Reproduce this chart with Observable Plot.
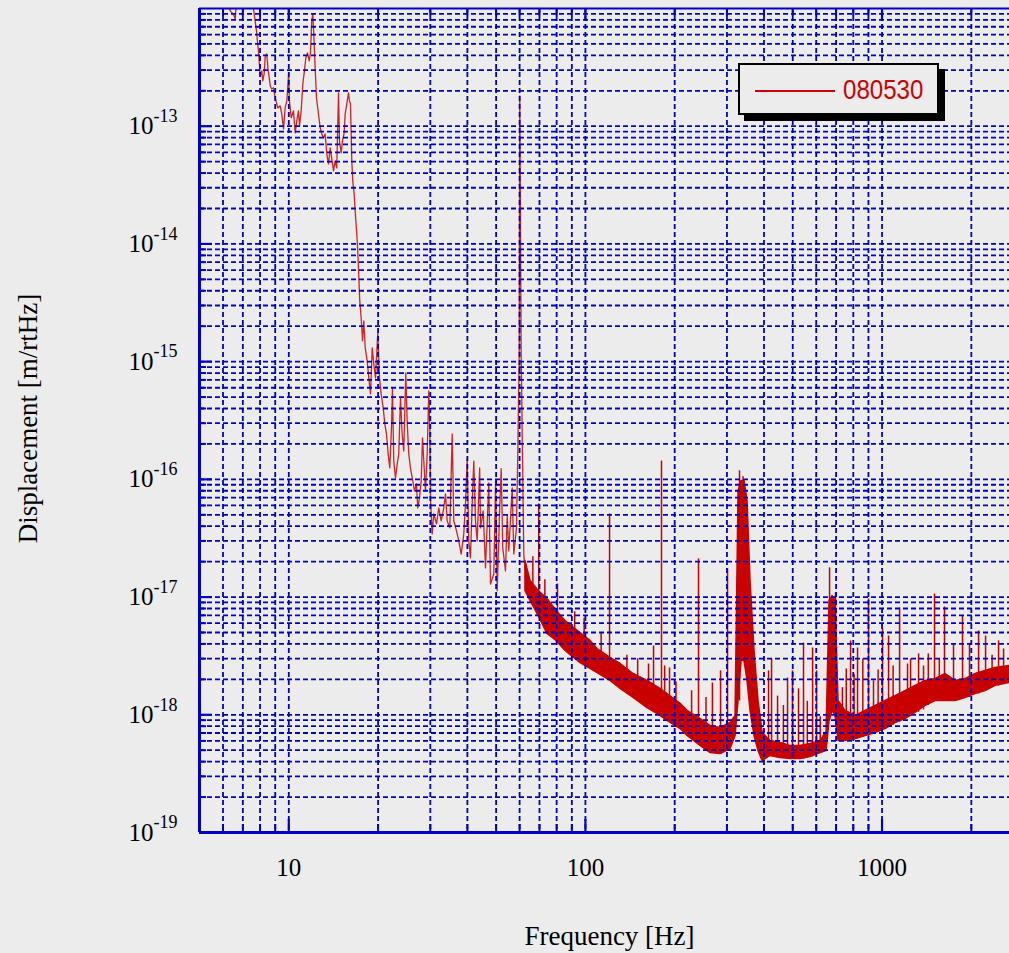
<!DOCTYPE html>
<html><head><meta charset="utf-8">
<script src="https://cdn.jsdelivr.net/npm/d3@7"></script>
<script src="https://cdn.jsdelivr.net/npm/@observablehq/plot@0.6"></script>
<style>
html,body{margin:0;padding:0;background:#ececec;overflow:hidden;}
#wrap{position:relative;width:1009px;height:953px;}
#legend{position:absolute;left:738px;top:63px;width:197px;height:48px;border:2px solid #000;background:#ececec;box-shadow:6px 6px 0 #000;}
#legend .sw{position:absolute;left:15px;top:25px;width:80px;height:2px;background:#cc0000;}
#legend .lbl{position:absolute;left:103px;top:11px;display:inline-block;transform:scaleX(0.86);transform-origin:0 0;font-family:"Liberation Sans",Arial,sans-serif;font-size:28px;line-height:28px;color:#cc0000;white-space:nowrap;}
</style></head>
<body><div id="wrap"></div>
<script>
// ---- data (frequency [Hz], displacement [m/rtHz]) ----
const seriesName = "080530";

const lowTrace = [
[6.2,1.3e-12],[6.35,9.5e-13],[6.5,9.0e-13],[6.6,8.2e-13],[6.7,1.5e-12],[7.5,1.5e-12],[7.60,1.0e-12],
[7.70,7.85e-13],[7.78,6.45e-13],[7.90,4.36e-13],[7.96,3.38e-13],[8.01,2.67e-13],[8.11,2.95e-13],
[8.17,2.43e-13],[8.26,2.78e-13],[8.33,3.96e-13],[8.43,4.11e-13],[8.50,3.13e-13],[8.59,2.57e-13],
[8.66,2.20e-13],[8.76,2.07e-13],[8.88,2.12e-13],[9.00,1.74e-13],[9.18,1.43e-13],[9.35,1.49e-13],
[9.47,1.27e-13],[9.60,9.5e-14],[9.72,1.43e-13],[9.85,1.64e-13],[9.99,2.84e-13],[10.05,1.64e-13],
[10.19,1.18e-13],[10.37,1.35e-13],[10.51,8.77e-14],[10.64,1.11e-13],[10.78,1.35e-13],[10.87,1.01e-13],
[11.01,1.35e-13],[11.15,2.29e-13],[11.29,2.95e-13],[11.41,3.80e-13],[11.56,4.20e-13],[11.72,3.59e-13],
[11.83,4.20e-13],[11.95,7.85e-13],[12.05,9.0e-13],[12.14,6.08e-13],[12.27,3.13e-13],[12.40,1.74e-13],
[12.59,1.27e-13],[12.76,9.7e-14],[12.92,8.6e-14],[13.09,7.96e-14],[13.26,8.6e-14],[13.43,5.82e-14],
[13.61,4.79e-14],[13.79,6.54e-14],[13.96,5.27e-14],[14.15,4.17e-14],[14.33,5.07e-14],[14.51,4.42e-14],
[14.71,1.92e-13],[14.82,7.50e-14],[15.02,5.93e-14],[15.17,7.50e-14],[15.37,8.77e-14],[15.49,1.27e-13],
[15.69,1.55e-13],[15.89,1.92e-13],[16.02,1.64e-13],[16.14,1.55e-13],[16.23,8.6e-14],[16.31,5.07e-14],
[16.43,3.43e-14],[16.61,2.66e-14],[16.74,1.91e-14],[16.95,1.22e-14],[17.08,8.7e-15],[17.35,3.28e-15],
[17.54,2.35e-15],[17.72,1.50e-15],[17.90,2.22e-15],[18.10,1.31e-15],[18.38,1.01e-15],[18.61,7.27e-16],
[18.86,5.32e-16],[19.11,1.31e-15],[19.35,9.56e-16],[19.60,7.27e-16],[19.95,1.75e-15],[20.22,7.27e-16],
[20.48,5.32e-16],[20.81,4.04e-16],[21.07,2.96e-16],[21.35,2.43e-16],[21.63,1.64e-16],[21.90,1.25e-16],
[22.19,2.73e-16],[22.36,5.86e-16],[22.59,1.43e-16],[22.89,1.03e-16],[23.20,1.35e-16],[23.48,1.64e-16],
[23.80,4.92e-16],[24.11,2.43e-16],[24.41,1.74e-16],[24.80,8.02e-16],[25.06,3.13e-16],[25.38,1.64e-16],
[25.71,1.25e-16],[26.18,9.7e-17],[26.53,7.97e-17],[26.94,9.14e-17],[27.22,5.71e-17],[27.58,6.95e-17],
[27.95,9.7e-17],[28.23,2.25e-16],[28.52,1.43e-16],[28.89,7.97e-17],[29.28,1.64e-16],[29.65,5.64e-16],
[29.88,2.73e-16],[30.04,6.95e-17],[30.44,3.44e-17],[30.82,5.08e-17],[31.47,4.18e-17],[32.04,5.71e-17],
[32.64,4.43e-17],[33.31,5.71e-17],[33.75,7.51e-17],[34.20,4.43e-17],[34.90,3.87e-17],[35.56,2.43e-16],
[36.00,4.43e-17],[36.76,3.65e-17],[37.42,3.0e-17],[38.13,2.32e-17],[38.90,3.44e-17],[39.42,6.18e-17],
[39.94,1.49e-16],[40.44,3.0e-17],[40.97,2.15e-17],[41.52,6.18e-17],[42.04,1.43e-16],[42.61,4.43e-17],
[43.17,3.0e-17],[44.00,1.25e-16],[44.29,3.87e-17],[45.23,5.39e-17],[46.04,1.77e-17],[47.23,9.32e-17],
[47.86,1.29e-17],[49.11,1.57e-17],[49.8,9.7e-17],[50.42,1.13e-17],[51.33,5.08e-17],[52.01,1.23e-16],
[52.66,2.61e-17],[53.77,1.67e-17],[54.5,4.9e-17],[55.16,2.46e-17],[56.64,8.45e-17],[57.35,2.32e-17],
[58.56,3.87e-17],[59.16,1.64e-16],[59.80,1.16e-15],[60.08,1.81e-13],[60.73,1.16e-15],[61.35,1.64e-16],
[61.98,2.32e-17],[62.80,1.51e-17]
];

// dense noise band above 60 Hz: [freq, lower edge, upper edge]
const noiseBand = [
[62.8,1.13e-17,2.03e-17],[65.3,9.27e-18,1.37e-17],[69.5,6.91e-18,1.13e-17],[74.5,4.86e-18,9.64e-18],
[79.9,4.24e-18,7.62e-18],[85.7,3.48e-18,6.26e-18],[89.8,3.16e-18,5.68e-18],[96.3,2.75e-18,4.95e-18],
[104.0,2.45e-18,4.24e-18],[109.9,2.26e-18,3.62e-18],[121.5,1.94e-18,3.04e-18],[131.4,1.66e-18,2.70e-18],
[145.3,1.39e-18,2.22e-18],[162.0,1.14e-18,1.94e-18],[179.1,9.8e-19,1.66e-18],[189.1,8.86e-19,1.50e-18],
[209.3,7.57e-19,1.24e-18],[221.0,6.6e-19,1.08e-18],[244.5,5.43e-19,9.2e-19],[264.2,4.73e-19,8.03e-19],
[285.5,4.64e-19,7.72e-19],[308.6,5.12e-19,8.51e-19],[320.8,6.6e-19,9.8e-19],[328.3,1.31e-18,7.94e-17],
[336.0,2.86e-18,9.7e-17],[343.9,2.86e-18,9.7e-17],[352.0,1.94e-18,6.55e-17],[360.3,1.08e-18,1.37e-17],
[371.7,6.6e-19,3.48e-18],[383.4,4.92e-19,1.31e-18],[395.5,4.05e-19,7.14e-19],[404.8,4.21e-19,6.6e-19],
[420.9,4.47e-19,5.99e-19],[454.9,4.30e-19,5.76e-19],[491.6,4.21e-19,5.43e-19],[531.3,4.21e-19,5.43e-19],
[574.2,4.38e-19,5.65e-19],[620.5,4.73e-19,5.99e-19],[650.1,4.92e-19,7.14e-19],[665.4,8.86e-19,9.27e-18],
[681.0,1.08e-18,1.02e-17],[697.0,9.8e-19,9.27e-18],[713.4,5.99e-19,1.31e-18],[753.3,5.99e-19,1.08e-18],
[814.2,6.23e-19,9.8e-19],[879.9,6.6e-19,1.08e-18],[950.6,7.0e-19,1.19e-18],[1027,7.57e-19,1.31e-18],
[1110,8.51e-19,1.44e-18],[1200,9.2e-19,1.59e-18],[1297,1.04e-18,1.76e-18],[1401,1.19e-18,1.94e-18],
[1515,1.31e-18,2.01e-18],[1637,1.31e-18,2.22e-18],[1769,1.31e-18,1.94e-18],[1912,1.39e-18,2.01e-18],
[2066,1.50e-18,2.22e-18],[2233,1.59e-18,2.36e-18],[2413,1.76e-18,2.50e-18],[2690,1.86e-18,2.60e-18]
];

// narrow lines: [freq, base, peak]
const lineSpikes = [
[66.5,1.0e-17,2.2e-17],[69.6,6.9e-18,6.18e-17],[73,6.0e-18,1.4e-17],[80.5,4.2e-18,1.29e-17],
[92,3.2e-18,7.5e-18],[99,2.8e-18,6.6e-18],[113,2.2e-18,5.0e-18],[120.6,1.94e-18,5.08e-17],
[138,1.5e-18,3.2e-18],[150,1.3e-18,3.0e-18],[163.2,1.14e-18,2.70e-18],[169.7,1.1e-18,3.84e-18],
[180.5,9.8e-19,1.43e-16],[185,9.4e-19,2.6e-18],[192.1,8.9e-19,2.50e-18],[202,8.0e-19,1.9e-18],
[228,6.4e-19,1.6e-18],[240.6,5.5e-19,2.11e-17],[255,5.0e-19,1.4e-18],[268,4.7e-19,1.86e-18],
[285.5,4.6e-19,2.36e-18],[301.4,5.1e-19,1.73e-17],[330.8,1.31e-18,1.18e-16],[340,2.9e-18,1.05e-16],
[414.4,4.5e-19,2.36e-18],[424.2,4.5e-19,2.98e-18],[444.4,4.3e-19,1.44e-18],[465,4.3e-19,1.2e-18],
[480.2,4.2e-19,2.05e-18],[499,4.2e-19,2.36e-18],[523,4.2e-19,1.66e-18],[543.6,4.2e-19,4.07e-18],
[560,4.3e-19,1.3e-18],[583.2,4.4e-19,3.69e-18],[601.6,4.6e-19,2.36e-18],[619,4.7e-19,9.6e-19],
[665.4,8.9e-19,1.77e-17],[697,9.8e-19,1.08e-17],[735,6.0e-19,1.7e-18],[757.5,6.0e-19,2.45e-18],
[783.3,6.0e-19,4.24e-18],[805,6.1e-19,2.2e-18],[826.9,6.2e-19,3.69e-18],[861.6,6.4e-19,2.98e-18],
[900.5,6.5e-19,9.64e-18],[936,7.0e-19,1.94e-18],[970,7.2e-19,2.4e-18],[1004,7.5e-19,5.36e-18],
[1052,7.8e-19,4.67e-18],[1090,8.2e-19,2.6e-18],[1146,8.7e-19,8.08e-18],[1219,9.5e-19,2.70e-18],
[1248,9.8e-19,2.98e-18],[1328,1.05e-18,3.29e-18],[1380,1.1e-18,2.6e-18],[1432,1.2e-18,3.29e-18],
[1503,1.3e-18,1.06e-17],[1560,1.3e-18,3.0e-18],[1624,1.3e-18,8.24e-18],[1742,1.3e-18,3.99e-18],
[1868,1.35e-18,6.91e-18],[1972,1.4e-18,3.99e-18],[2116,1.5e-18,5.15e-18],[2234,1.6e-18,4.67e-18],
[2350,1.7e-18,3.2e-18],[2471,1.75e-18,4.24e-18],[2569,1.8e-18,3.62e-18]
];

const xLabelValues = [10, 100, 1000];
const xLabelTexts = ["10", "100", "1000"];
const yLabelValues = [1e-13, 1e-14, 1e-15, 1e-16, 1e-17, 1e-18, 1e-19];
const yLabelExps = ["-13", "-14", "-15", "-16", "-17", "-18", "-19"];
const xDomain = [5, 2690];
const yDomain = [1e-19, 1e-12];
const xTitle = "Frequency [Hz]";
const yTitle = "Displacement [m/rtHz]";

// ---- build ----
const BLUE = "#0000c4", RED = "#c80000";
const W = 1009, H = 953, ML = 199, MT = 8, MB = 121;
const FW = W - ML, FH = H - MT - MB;
const isMajor = d => Math.abs(Math.log10(d) - Math.round(Math.log10(d))) < 1e-6;
const xGrid = d3.scaleLog().domain(xDomain).ticks().filter(d => d > xDomain[0] * 1.001);
const yGrid = d3.scaleLog().domain(yDomain).ticks().filter(d => d > yDomain[0] * 1.001 && d < yDomain[1] * 0.999);
const xMajor = xGrid.filter(isMajor), xMinor = xGrid.filter(d => !isMajor(d));
const yMajor = yGrid.filter(isMajor), yMinor = yGrid.filter(d => !isMajor(d));

const low = lowTrace.map(([f, v]) => ({f, v}));
const band = noiseBand.map(([f, lo, hi]) => ({f, lo, hi}));
const spikes = lineSpikes.map(([f, base, top]) => ({f, base, top}));

const serif = "Liberation Serif, Times New Roman, serif";
const grid = {stroke: BLUE, strokeWidth: 1.8, strokeDasharray: "5,3"};

const chart = Plot.plot({
  width: W, height: H,
  marginLeft: ML, marginRight: 0, marginTop: MT, marginBottom: MB,
  style: {background: "transparent", overflow: "visible"},
  x: {type: "log", domain: xDomain, axis: null},
  y: {type: "log", domain: yDomain, axis: null},
  marks: [
    Plot.areaY(band, {x: "f", y1: "lo", y2: "hi", fill: RED, stroke: RED, strokeWidth: 1.5, clip: true}),
    Plot.ruleX(spikes, {x: "f", y1: "base", y2: "top", stroke: RED, strokeWidth: 1.5, clip: true}),
    Plot.line(low, {x: "f", y: "v", stroke: RED, strokeWidth: 1.3, strokeOpacity: 0.85, clip: true}),
    Plot.ruleX(xGrid, grid),
    Plot.ruleY(yGrid, grid),
    // ticks (inward)
    Plot.ruleX(xMinor, {stroke: BLUE, strokeWidth: 2, insetTop: FH - 8}),
    Plot.ruleX(xMajor, {stroke: BLUE, strokeWidth: 2.2, insetTop: FH - 13}),
    Plot.ruleX(xMinor, {stroke: BLUE, strokeWidth: 2, insetBottom: FH - 8}),
    Plot.ruleX(xMajor, {stroke: BLUE, strokeWidth: 2.2, insetBottom: FH - 13}),
    Plot.ruleY(yMinor, {stroke: BLUE, strokeWidth: 2, insetRight: FW - 7}),
    Plot.ruleY(yMajor, {stroke: BLUE, strokeWidth: 2.2, insetRight: FW - 13}),
    // axis lines
    Plot.ruleX([xDomain[0]], {stroke: BLUE, strokeWidth: 3}),
    Plot.ruleY([yDomain[0]], {stroke: BLUE, strokeWidth: 3}),
    Plot.ruleY([yDomain[1]], {stroke: BLUE, strokeWidth: 2}),
    // tick labels
    Plot.text(xLabelValues, {x: d => d, text: (d, i) => xLabelTexts[i], frameAnchor: "bottom", dy: 35, lineAnchor: "middle", fontSize: 25, fontFamily: serif, fill: "#000"}),
    Plot.text(yLabelValues, {y: d => d, text: () => "10", frameAnchor: "left", dx: -46, textAnchor: "end", lineAnchor: "middle", fontSize: 25, fontFamily: serif, fill: "#000"}),
    Plot.text(yLabelValues, {y: d => d, text: (d, i) => yLabelExps[i], frameAnchor: "left", dx: -46, dy: -10, textAnchor: "start", lineAnchor: "middle", fontSize: 18, fontFamily: serif, fill: "#000"}),
    // titles
    Plot.text([xTitle], {text: d => d, frameAnchor: "bottom", dx: 5, dy: 104, lineAnchor: "middle", fontSize: 27, fontFamily: serif, fill: "#000"}),
    Plot.text([yTitle], {text: d => d, frameAnchor: "left", rotate: -90, dx: -171, dy: -2, textAnchor: "middle", lineAnchor: "middle", fontSize: 27, fontFamily: serif, fill: "#000"})
  ]
});

const wrap = document.getElementById("wrap");
wrap.appendChild(chart);
const legend = document.createElement("div");
legend.id = "legend";
legend.innerHTML = '<div class="sw"></div><span class="lbl"></span>';
legend.querySelector(".lbl").textContent = seriesName;
wrap.appendChild(legend);
</script>
</body></html>
